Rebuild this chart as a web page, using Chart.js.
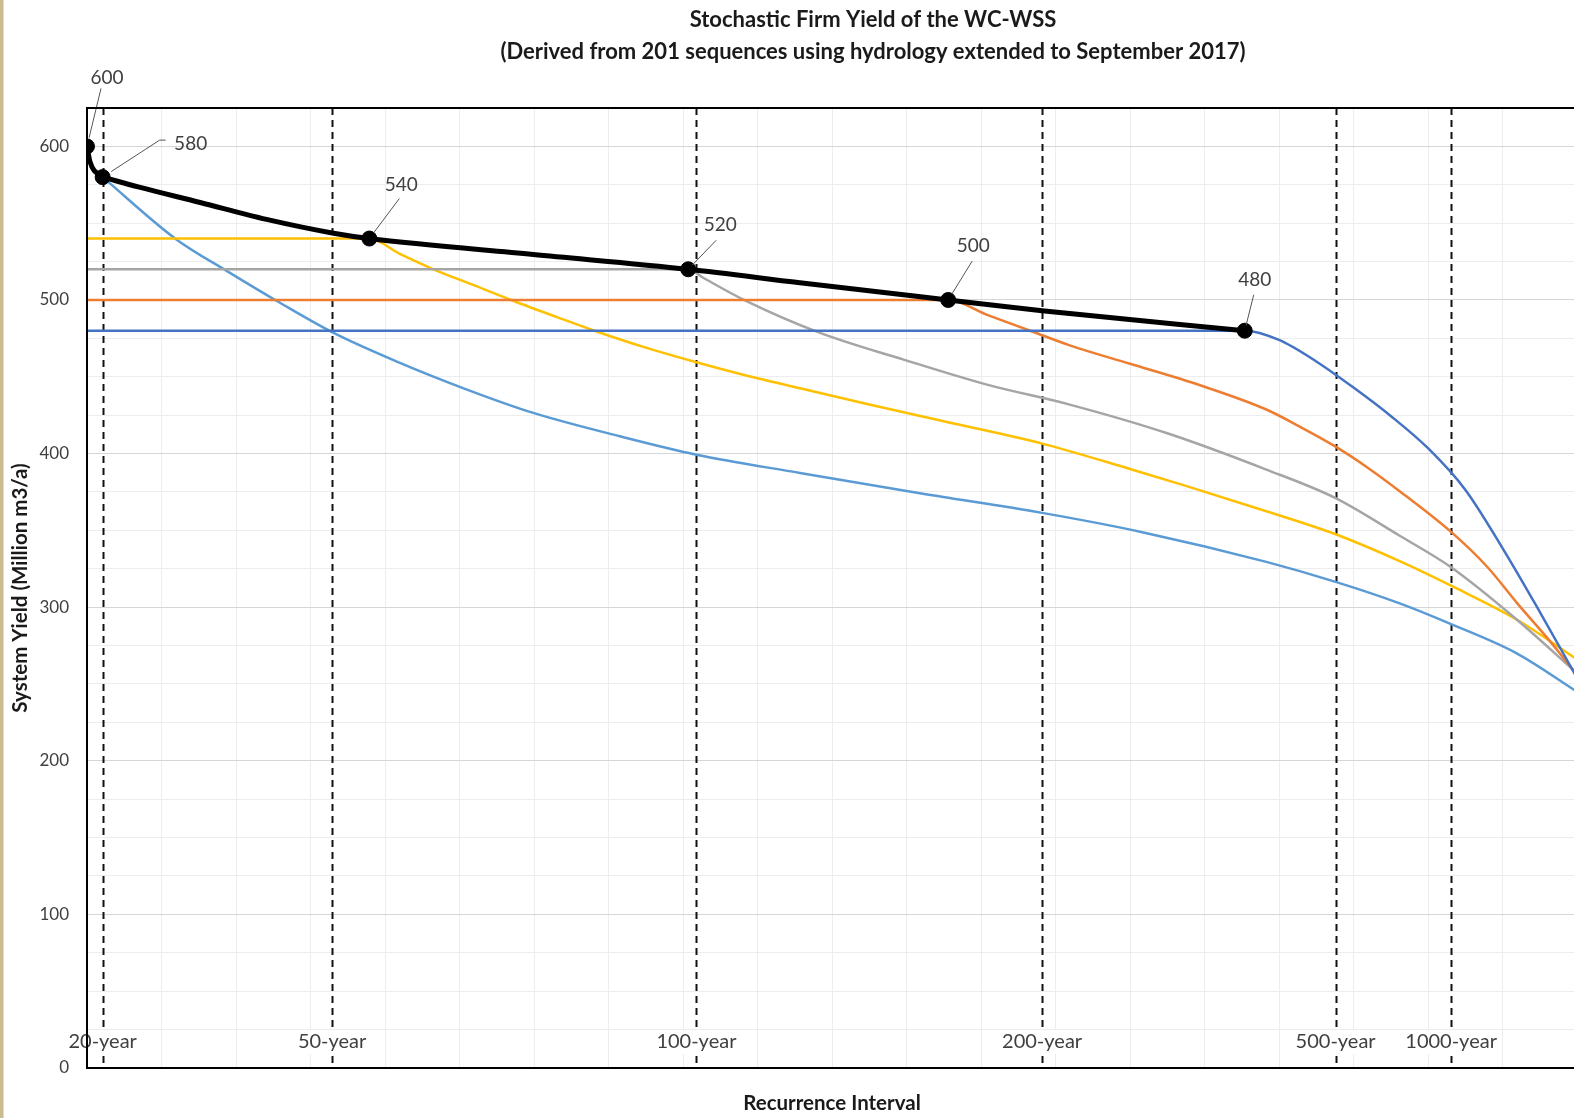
<!DOCTYPE html>
<html>
<head>
<meta charset="utf-8">
<title>Stochastic Firm Yield of the WC-WSS</title>
<script src="https://cdn.jsdelivr.net/npm/chart.js"></script>
<style>
  html, body { margin: 0; padding: 0; background: #fff; overflow: hidden; }
  #wrap { position: relative; width: 1574px; height: 1118px; overflow: hidden; }
  #myChart { position: absolute; left: 0; top: 0; }
  #edge { position: absolute; left: 0; top: 0; width: 3px; height: 1118px; background: #cbbb92; border-right: 1px solid #dcdcdc; }
</style>
</head>
<body>
<div id="wrap">
  <canvas id="myChart" width="1746" height="1118"></canvas>
  <div id="edge"></div>
</div>
<script>
// x is a plotting position (one unit per vertical grid line)
const intervalLabels = ['20-year', '50-year', '100-year', '200-year', '500-year', '1000-year']
const intervalPos = [0.21, 3.29, 8.18, 12.82, 16.76, 18.31]

// firm yield points on the envelope
const firmX = [0, 0.21, 3.79, 8.07, 11.56, 15.54]
const firmY = [600, 580, 540, 520, 500, 480]

// envelope (black): the short drop from 600 to 580, then the rest
const envTopX = [0, 0.04, 0.21]
const envTopY = [600, 590, 580]
const envX = [0.21, 0.7, 1.52, 2.41, 3.31, 3.79, 5.99, 8.07, 9.57, 11.56, 12.82, 15.54]
const envY = [580, 573.5, 563.5, 552.5, 543.5, 540, 529.6, 520, 511.2, 500, 493, 480]

// yield curves per target yield
const y580X = [0.21, 1.20, 1.88, 2.59, 3.31, 4.20, 5.10, 5.99, 7.15, 8.18, 9.57, 11.2, 12.82, 14.15, 15.83, 16.76, 17.62, 18.31, 19.19, 20]
const y580Y = [580, 539.4, 518.8, 498.2, 478.6, 459.1, 441.7, 426.5, 411.3, 399.3, 387.4, 374, 361.4, 349, 329.5, 316.5, 302.5, 289, 270, 245]

const y540X = [0, 3.79, 4.2, 4.65, 5.2, 5.72, 6.3, 6.84, 7.5, 8.18, 9.0, 9.57, 10.5, 11.5, 12.82, 14.0, 14.75, 15.83, 16.76, 17.62, 18.31, 19.19, 20]
const y540Y = [540, 540, 530, 520, 509.5, 499.5, 489, 479.5, 469, 459.5, 449, 442.5, 432, 421, 406.5, 390, 379, 362.5, 347.5, 330, 314, 292, 266]

const y520X = [0, 8.07, 8.27, 8.81, 9.84, 10.96, 12.08, 13.19, 14.49, 15.83, 16.76, 17.62, 18.31, 19.19, 20]
const y520Y = [520, 520, 514.5, 500.3, 478.6, 461.2, 444.9, 431.9, 413.4, 389.6, 371, 346.5, 326, 292, 257]

const y500X = [0, 11.56, 12.1, 12.66, 13.19, 14.0, 14.94, 15.83, 16.28, 16.76, 17.2, 17.62, 18.31, 18.8, 19.19, 19.6, 20]
const y500Y = [500, 500, 490, 480, 470.5, 458.5, 444.5, 428.7, 417.5, 404.5, 390.5, 375.5, 349, 326, 303, 280, 256]

const y480X = [0, 15.54, 16.0, 16.5, 17.0, 17.5, 18.0, 18.5, 19.0, 19.5, 20]
const y480Y = [480, 480, 474, 460, 443, 424.5, 403.5, 376.5, 338.5, 297, 254]

// label placement for the firm yield points: [labelDx, labelDy, leaderDx, leaderDy]
const firmLabelOffsets = [[20, -69, 14, -58], [88, -33, 57, -37], [32, -54, 30, -40], [32, -44, 28, -29], [25, -54, 24, -39], [10, -51, 9, -36]]

const FONT = 'Lato'

function pts(xs, ys) {
  return xs.map((x, i) => ({ x: x, y: ys[i] }))
}

function curve(label, xs, ys, color, width) {
  return {
    label: label,
    data: pts(xs, ys),
    borderColor: color,
    backgroundColor: color,
    borderWidth: width || 2.5,
    pointRadius: 0,
    cubicInterpolationMode: 'monotone',
    fill: false
  }
}

const extras = {
  id: 'extras',
  beforeDatasetsDraw(chart) {
    const { ctx, chartArea, scales } = chart
    ctx.save()
    ctx.strokeStyle = '#111'
    ctx.lineWidth = 2
    ctx.setLineDash([7, 5])
    intervalPos.forEach(p => {
      const x = Math.round(scales.x.getPixelForValue(p)) + 0.5
      ctx.beginPath()
      ctx.moveTo(x, chartArea.top)
      ctx.lineTo(x, chartArea.bottom)
      ctx.stroke()
    })
    ctx.restore()
  },
  afterDatasetsDraw(chart) {
    const { ctx, chartArea, scales } = chart
    ctx.save()

    // recurrence labels inside the plot
    ctx.font = '20px ' + FONT
    ctx.textAlign = 'center'
    ctx.textBaseline = 'middle'
    intervalLabels.forEach((t, i) => {
      const x = scales.x.getPixelForValue(intervalPos[i])
      const y = chartArea.bottom - 26
      const w = ctx.measureText(t).width
      ctx.fillStyle = '#fff'
      ctx.fillRect(x - w / 2 - 2, y - 12, w + 4, 24)
      ctx.fillStyle = '#404040'
      ctx.fillText(t, x, y)
    })

    // firm yield labels with leader lines
    ctx.font = '19px ' + FONT
    firmX.forEach((fx, i) => {
      const px = scales.x.getPixelForValue(fx)
      const py = scales.y.getPixelForValue(firmY[i])
      const o = firmLabelOffsets[i]
      ctx.strokeStyle = '#555'
      ctx.lineWidth = 1
      ctx.beginPath()
      ctx.moveTo(px + o[2] * 0.15, py + o[3] * 0.15)
      ctx.lineTo(px + o[2], py + o[3])
      if (i === 1) ctx.lineTo(px + o[2] + 6, py + o[3])
      ctx.stroke()
      ctx.fillStyle = '#404040'
      ctx.fillText(String(firmY[i]), px + o[0], py + o[1])
    })

    // plot frame
    ctx.strokeStyle = '#000'
    ctx.lineWidth = 2
    ctx.beginPath()
    ctx.moveTo(chartArea.right + 5, chartArea.top)
    ctx.lineTo(chartArea.left, chartArea.top)
    ctx.lineTo(chartArea.left, chartArea.bottom)
    ctx.lineTo(chartArea.right + 5, chartArea.bottom)
    ctx.stroke()
    ctx.restore()
  }
}

const myChart = new Chart(document.getElementById('myChart'), {
  type: 'line',
  data: {
    datasets: [
      {
        label: 'Firm yield',
        data: pts(firmX, firmY),
        showLine: false,
        pointRadius: 7.5,
        pointBackgroundColor: '#000',
        pointBorderColor: '#000'
      },
      curve('Envelope', envX, envY, '#000', 5),
      curve('Envelope top', envTopX, envTopY, '#000', 5),
      curve('480', y480X, y480Y, '#4472c4'),
      curve('500', y500X, y500Y, '#ed7d31'),
      curve('520', y520X, y520Y, '#a5a5a5'),
      curve('540', y540X, y540Y, '#ffc000'),
      curve('580', y580X, y580Y, '#5b9bd5')
    ]
  },
  options: {
    responsive: false,
    animation: false,
    plugins: {
      legend: { display: false },
      tooltip: { enabled: false },
      title: {
        display: true,
        text: ['Stochastic Firm Yield of the WC-WSS', '(Derived from 201 sequences using hydrology extended to September 2017)'],
        color: '#1a1a1a',
        font: { family: FONT, size: 22, weight: 'bold', lineHeight: 1.4545 },
        padding: { top: 4, bottom: 40 }
      }
    },
    scales: {
      x: {
        type: 'linear',
        min: 0,
        max: 20,
        ticks: { display: false, stepSize: 1 },
        grid: { color: '#ededed', drawTicks: false },
        border: { display: false },
        title: {
          display: true,
          text: 'Recurrence Interval',
          color: '#1a1a1a',
          font: { family: FONT, size: 20.5, weight: 'bold' },
          padding: { top: 22.7, bottom: 2.7 }
        }
      },
      y: {
        min: 0,
        max: 625,
        afterFit: scale => { scale.width = 87 },
        ticks: {
          stepSize: 25,
          padding: 18,
          color: '#404040',
          font: { family: FONT, size: 17 },
          callback: v => (v % 100 === 0 ? String(v) : '')
        },
        grid: {
          drawTicks: false,
          color: c => (c.tick && c.tick.value % 100 === 0 ? '#d6d6d6' : '#ededed')
        },
        border: { display: false },
        title: {
          display: true,
          text: 'System Yield (Million m3/a)',
          color: '#1a1a1a',
          font: { family: FONT, size: 20.5, weight: 'bold' },
          padding: { top: 7.7, bottom: 0 }
        }
      },
      // empty space on the right: the original plot runs past the picture edge
      spacer: {
        type: 'linear',
        axis: 'y',
        position: 'right',
        afterFit: scale => { scale.width = 169 },
        ticks: { display: false },
        grid: { display: false, drawTicks: false },
        border: { display: false }
      }
    }
  },
  plugins: [extras]
})
</script>
</body>
</html>
